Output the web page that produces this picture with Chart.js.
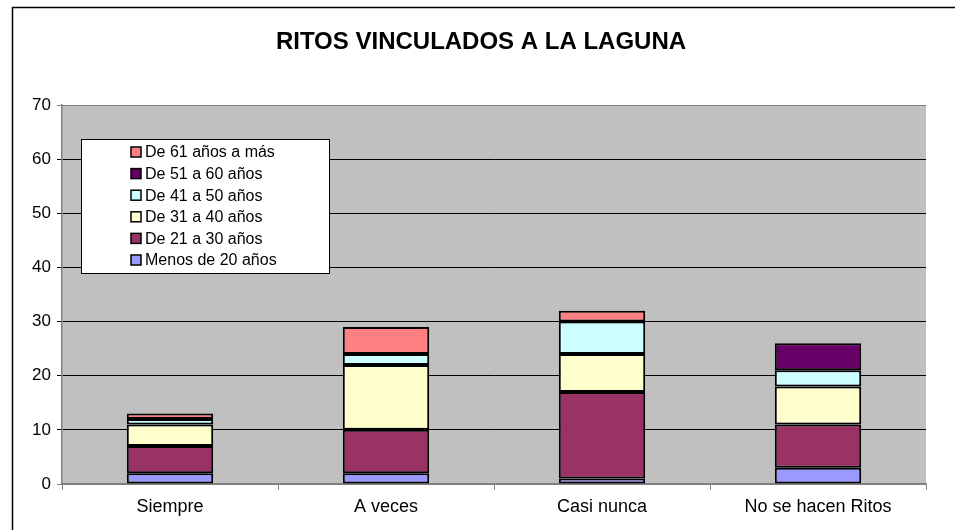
<!DOCTYPE html>
<html>
<head>
<meta charset="utf-8">
<script src="https://cdn.jsdelivr.net/npm/chart.js@4.4.1/dist/chart.umd.min.js"></script>
<style>
    html, body { margin: 0; padding: 0; background: #fff; }
    #wrap { width: 955px; height: 530px; position: relative; }
</style>
</head>
<body>
<div id="wrap"><canvas id="ritosChart" width="955" height="530"></canvas></div>
<script>
const categories = ['Siempre', 'A veces', 'Casi nunca', 'No se hacen Ritos'];
const seriesNames = ['Menos de 20 años', 'De 21 a 30 años', 'De 31 a 40 años', 'De 41 a 50 años', 'De 51 a 60 años', 'De 61 años a más'];
const menos20 = [2, 2, 1, 3];
const de21a30 = [5, 8, 16, 8];
const de31a40 = [4, 12, 7, 7];
const de41a50 = [1, 2, 6, 3];
const de51a60 = [0, 0, 0, 5];
const de61mas = [1, 5, 2, 0];
const seriesColors = ['#9999FF', '#993366', '#FFFFCC', '#CCFFFF', '#660066', '#FF8080'];
const yTicks = [0, 10, 20, 30, 40, 50, 60, 70];

const FONT = 'Arial, "Liberation Sans", sans-serif';
const allSeries = [menos20, de21a30, de31a40, de41a50, de51a60, de61mas];

// plot area box in the reference
const PLOT = { left: 62, right: 926, top: 105, bottom: 484 };

const excelLook = {
    id: 'excelLook',
    beforeDraw(chart) {
        const ctx = chart.ctx;
        const a = chart.chartArea;
        ctx.save();
        ctx.fillStyle = '#C0C0C0';
        ctx.fillRect(a.left, a.top, a.right - a.left, a.bottom - a.top);
        ctx.restore();
    },
    afterDraw(chart) {
        const ctx = chart.ctx;
        ctx.save();
        // outer chart border (runs off the picture at right and bottom)
        ctx.strokeStyle = '#000';
        ctx.lineWidth = 1.5;
        ctx.strokeRect(12.5, 7.5, 1200, 1200);

        // title
        ctx.fillStyle = '#000';
        ctx.font = 'bold 24px ' + FONT;
        ctx.textAlign = 'center';
        ctx.textBaseline = 'middle';
        ctx.fillText('RITOS VINCULADOS A LA LAGUNA', 481, 42);

        // legend box
        const bx = 81, by = 139, bw = 248, bh = 134;
        ctx.fillStyle = '#fff';
        ctx.fillRect(bx, by, bw, bh);
        ctx.strokeStyle = '#000';
        ctx.lineWidth = 1;
        ctx.strokeRect(bx + 0.5, by + 0.5, bw, bh);

        ctx.font = '16px ' + FONT;
        ctx.textAlign = 'left';
        const ds = chart.data.datasets;
        for (let i = 0; i < ds.length; i++) {
            const d = ds[ds.length - 1 - i];
            const cy = 152 + i * 21.6;
            ctx.fillStyle = d.backgroundColor;
            ctx.fillRect(131, cy - 5, 10, 10);
            ctx.strokeStyle = '#000';
            ctx.lineWidth = 1.5;
            ctx.strokeRect(131, cy - 5, 10, 10);
            ctx.fillStyle = '#000';
            ctx.fillText(d.label, 145, cy + 1);
        }
        ctx.restore();
    }
};

// zero segments are left out so they do not add an extra border line
const datasets = seriesNames.map((name, i) => ({
    label: name,
    data: allSeries[i].map(v => (v === 0 ? null : v)),
    backgroundColor: seriesColors[i],
    borderColor: '#000',
    borderWidth: 2,
    borderSkipped: false,
    barPercentage: 0.4,
    categoryPercentage: 1.0
}));

new Chart(document.getElementById('ritosChart'), {
    type: 'bar',
    data: { labels: categories, datasets: datasets },
    plugins: [excelLook],
    options: {
        responsive: false,
        animation: false,
        layout: { padding: { left: 0, right: 955 - PLOT.right, top: PLOT.top, bottom: 0 } },
        plugins: {
            legend: { display: false },
            title: { display: false },
            tooltip: { enabled: false }
        },
        scales: {
            x: {
                stacked: true,
                afterFit(scale) { scale.height = 530 - PLOT.bottom; },
                grid: {
                    offset: true,
                    drawOnChartArea: false,
                    color: '#808080',
                    tickLength: 6
                },
                border: { color: '#808080', width: 1.5 },
                ticks: {
                    color: '#000',
                    font: { family: FONT, size: 18 },
                    padding: 6
                }
            },
            y: {
                stacked: true,
                min: 0,
                max: 70,
                afterFit(scale) { scale.width = PLOT.left; },
                afterBuildTicks(scale) { scale.ticks = yTicks.map(v => ({ value: v })); },
                grid: {
                    color: ctx => (ctx.tick && (ctx.tick.value === 0 || ctx.tick.value === 70)) ? '#808080' : '#000',
                    tickLength: 5,
                    lineWidth: 1
                },
                border: { color: '#808080', width: 1.5 },
                ticks: {
                    color: '#000',
                    font: { family: FONT, size: 17 },
                    padding: 6
                }
            }
        }
    }
});
</script>
</body>
</html>
